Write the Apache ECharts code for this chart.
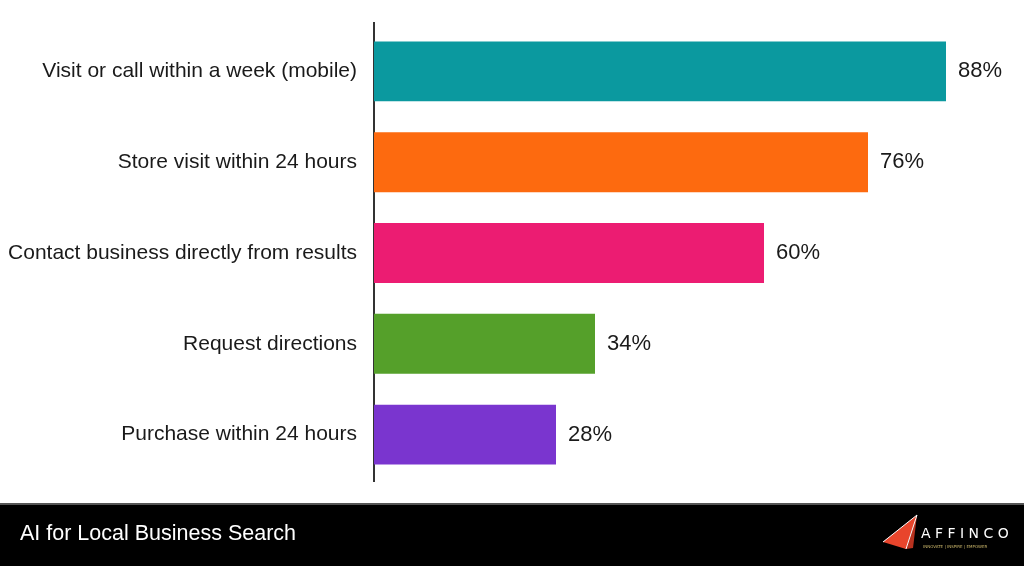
<!DOCTYPE html>
<html>
<head>
<meta charset="utf-8">
<script src="https://cdn.jsdelivr.net/npm/echarts@6/dist/echarts.min.js"></script>
<style>
html, body { margin: 0; padding: 0; background: #fff; }
#chart { width: 1024px; height: 566px; }
</style>
</head>
<body>
<div id="chart"></div>
<script>
var categories = [
  'Visit or call within a week (mobile)',
  'Store visit within 24 hours',
  'Contact business directly from results',
  'Request directions',
  'Purchase within 24 hours'
];
var values = [88, 76, 60, 34, 28];
var barColors = ['#0b999f', '#fd6a0f', '#ec1c72', '#55a02a', '#7a35cf'];
var footerTitle = 'AI for Local Business Search';

var myChart = echarts.init(document.getElementById('chart'));

var option = {
  backgroundColor: '#ffffff',
  animation: false,
  grid: { left: 374, right: 0, top: 26, bottom: 86 },
  xAxis: {
    type: 'value',
    min: 0,
    max: 100,
    show: false
  },
  yAxis: {
    type: 'category',
    inverse: true,
    data: categories,
    axisTick: { show: false },
    axisLine: { show: true, lineStyle: { color: '#333', width: 2 } },
    axisLabel: {
      color: '#1a1a1a',
      fontSize: 21,
      fontFamily: 'Liberation Sans',
      margin: 17
    }
  },
  series: [
    {
      type: 'bar',
      barCategoryGap: '34%',
      data: values.map(function (v, i) {
        return { value: v, itemStyle: { color: barColors[i] } };
      }),
      label: {
        show: true,
        position: 'right',
        distance: 12,
        formatter: '{c}%',
        color: '#1a1a1a',
        fontSize: 22,
        fontFamily: 'Liberation Sans'
      }
    }
  ],
  graphic: [
    // axis line runs a little past the bars at both ends
    {
      type: 'line',
      shape: { x1: 374, y1: 22, x2: 374, y2: 482 },
      style: { stroke: '#333', lineWidth: 2 }
    },
    {
      type: 'rect',
      shape: { x: 0, y: 504, width: 1024, height: 62 },
      style: { fill: '#000000' }
    },
    {
      type: 'rect',
      shape: { x: 0, y: 503, width: 1024, height: 2 },
      style: { fill: '#555555' }
    },
    {
      type: 'text',
      left: 20,
      top: 523,
      style: {
        text: footerTitle,
        fill: '#ffffff',
        fontSize: 21.5,
        fontFamily: 'Liberation Sans'
      }
    },
    // paper plane logo
    {
      type: 'polygon',
      shape: { points: [[883, 542], [917, 515], [906, 549]] },
      style: { fill: '#e8452c' }
    },
    {
      type: 'polygon',
      shape: { points: [[906, 549], [917, 515], [913, 548]] },
      style: { fill: '#b8321f' }
    },
    {
      type: 'polyline',
      shape: { points: [[883, 542], [917, 515], [906, 549]] },
      style: { stroke: '#ffffff', lineWidth: 1, fill: null }
    },
    {
      type: 'text',
      left: 921,
      top: 527,
      style: {
        text: 'A F F I N C O',
        fill: '#ffffff',
        fontSize: 14,
        fontFamily: 'DejaVu Sans'
      }
    },
    {
      type: 'text',
      left: 923,
      top: 545,
      style: {
        text: 'INNOVATE | INSPIRE | EMPOWER',
        fill: '#c9b56a',
        fontSize: 4,
        fontFamily: 'DejaVu Sans'
      }
    }
  ]
};

myChart.setOption(option);
window.addEventListener('resize', myChart.resize);
</script>
</body>
</html>
